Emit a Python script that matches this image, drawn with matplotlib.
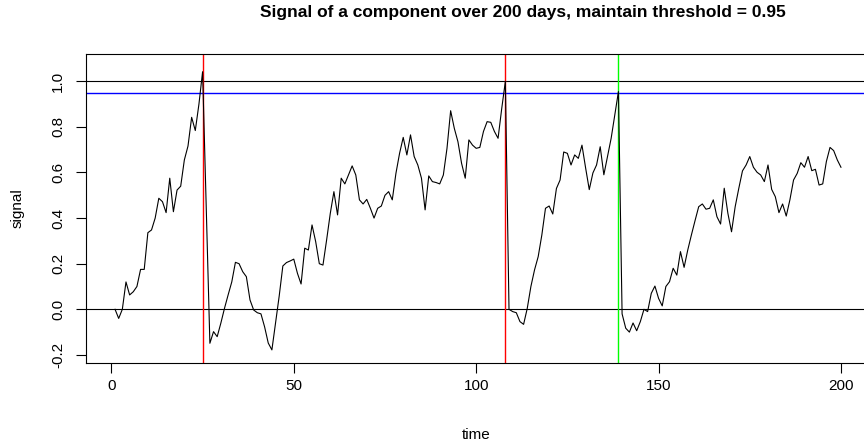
import matplotlib
matplotlib.use("Agg")
import matplotlib.pyplot as plt

# daily signal of one component, days 1..200
days = list(range(1, 201))
signal = [
    0.0, -0.04, 0.0, 0.12, 0.063, 0.077, 0.10, 0.175, 0.175, 0.336,
    0.348, 0.40, 0.487, 0.472, 0.424, 0.575, 0.428, 0.523, 0.54, 0.655,
    0.716, 0.842, 0.784, 0.90, 1.042, 0.45, -0.149, -0.098, -0.12, -0.061,
    0.004, 0.063, 0.12, 0.206, 0.2, 0.165, 0.143, 0.041, -0.003, -0.015,
    -0.02, -0.077, -0.148, -0.178, -0.06, 0.058, 0.19, 0.205, 0.212, 0.22,
    0.158, 0.111, 0.268, 0.26, 0.37, 0.297, 0.2, 0.194, 0.304, 0.42,
    0.516, 0.414, 0.575, 0.55, 0.589, 0.629, 0.589, 0.48, 0.462, 0.482,
    0.443, 0.4, 0.443, 0.453, 0.5, 0.516, 0.48, 0.596, 0.684, 0.754,
    0.677, 0.765, 0.67, 0.633, 0.575, 0.436, 0.585, 0.56, 0.556, 0.55,
    0.589, 0.706, 0.871, 0.794, 0.735, 0.64, 0.575, 0.743, 0.72, 0.706,
    0.71, 0.78, 0.823, 0.82, 0.78, 0.75, 0.88, 1.0, 0.0, -0.01,
    -0.015, -0.054, -0.066, 0.004, 0.1, 0.173, 0.231, 0.326, 0.443, 0.453,
    0.418, 0.53, 0.567, 0.69, 0.684, 0.633, 0.677, 0.662, 0.72, 0.62,
    0.525, 0.598, 0.633, 0.713, 0.59, 0.67, 0.75, 0.852, 0.955, -0.02,
    -0.083, -0.1, -0.06, -0.094, -0.054, 0.0, -0.01, 0.07, 0.102, 0.048,
    0.015, 0.1, 0.121, 0.18, 0.15, 0.253, 0.184, 0.26, 0.326, 0.389,
    0.45, 0.462, 0.439, 0.443, 0.48, 0.406, 0.374, 0.531, 0.421, 0.34,
    0.45, 0.531, 0.607, 0.633, 0.67, 0.623, 0.601, 0.589, 0.56, 0.633,
    0.526, 0.494, 0.424, 0.462, 0.409, 0.48, 0.567, 0.596, 0.643, 0.623,
    0.67, 0.608, 0.614, 0.545, 0.55, 0.648, 0.71, 0.696, 0.655, 0.623,
]
assert len(signal) == len(days)

threshold = 0.95
failure_days = [25, 108]      # signal reached 1 -> failure
maintain_days = [139]         # signal crossed threshold -> maintenance

plt.rcParams['font.family'] = ['Liberation Sans', 'DejaVu Sans']

W, H = 864, 445
fig = plt.figure(figsize=(W / 100, H / 100), dpi=100)
# plot region in pixels (left, top, right, bottom)
L, T, R, B = 86, 54, 870, 362.7
ax = fig.add_axes([L / W, 1 - B / H, (R - L) / W, (B - T) / H])

lw = 0.8
ax.plot(days, signal, color='black', lw=lw, zorder=3)
ax.axhline(0, color='black', lw=lw, zorder=2)
ax.axhline(1, color='black', lw=lw, zorder=2)
ax.axhline(threshold, color='#0000ff', lw=1.0, zorder=2)
for d in failure_days:
    ax.axvline(d, color='#ff0000', lw=1.0, zorder=2)
for d in maintain_days:
    ax.axvline(d, color='#00ff00', lw=1.0, zorder=2)

ax.set_xlim(1 - 0.04 * 199, 200 + 0.04 * 199)
ax.set_ylim(-0.2342, 1.1197)
ax.set_xticks([0, 50, 100, 150, 200])
ax.set_yticks([-0.2, 0.0, 0.2, 0.4, 0.6, 0.8, 1.0])
ax.set_yticklabels(['-0.2', '0.0', '0.2', '0.4', '0.6', '0.8', '1.0'],
                   rotation=90, va='center')
ax.tick_params(direction='out', length=7, width=0.8, labelsize=11,
               colors='black', pad=5)
ax.tick_params(axis='y', pad=8)
for s in ax.spines.values():
    s.set_linewidth(0.8)

fig.text(523 / W, 1 - 13 / H, 'Signal of a component over 200 days, maintain threshold = 0.95',
         ha='center', va='center', fontsize=12.5, fontweight='bold')
fig.text(476 / W, 1 - 435 / H, 'time', ha='center', va='center', fontsize=11)
fig.text(18 / W, 1 - 208 / H, 'signal', ha='center', va='center', fontsize=11,
         rotation=90)

fig.savefig('out.png', dpi=100)
